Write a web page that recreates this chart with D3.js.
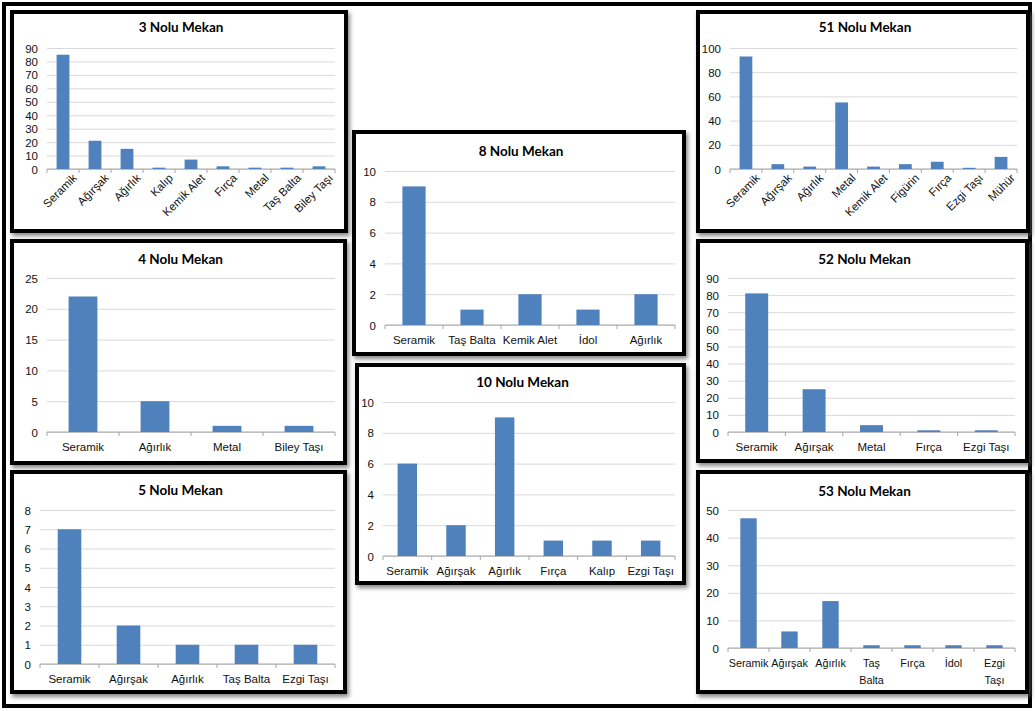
<!DOCTYPE html>
<html lang="tr">
<head>
<meta charset="UTF-8">
<title>Mekan Buluntuları</title>
<script src="https://d3js.org/d3.v7.min.js"></script>
<style>
    body { margin: 0; background: #fff; }
    svg { display: block; font-family: Lato, "Open Sans", sans-serif; }
    .title { font-weight: bold; font-size: 13.5px; fill: #000; }
    .tick text { font-size: 11.5px; fill: #111; }
    .narrow .xaxis .tick text { font-size: 10.8px; }
    .grid line { stroke: #d9d9d9; }
    .grid path { display: none; }
    .xaxis path { display: none; }
    .bar { fill: #4f81bd; }
</style>
</head>
<body>
<svg id="chart" width="1035" height="711"></svg>
<script>
// veriler
const m3Cats = ["Seramik", "Ağırşak", "Ağırlık", "Kalıp", "Kemik Alet", "Fırça", "Metal", "Taş Balta", "Biley Taşı"];
const m3Vals = [85, 21, 15, 1, 7, 2, 1, 1, 2];
const m4Cats = ["Seramik", "Ağırlık", "Metal", "Biley Taşı"];
const m4Vals = [22, 5, 1, 1];
const m5Cats = ["Seramik", "Ağırşak", "Ağırlık", "Taş Balta", "Ezgi Taşı"];
const m5Vals = [7, 2, 1, 1, 1];
const m8Cats = ["Seramik", "Taş Balta", "Kemik Alet", "İdol", "Ağırlık"];
const m8Vals = [9, 1, 2, 1, 2];
const m10Cats = ["Seramik", "Ağırşak", "Ağırlık", "Fırça", "Kalıp", "Ezgi Taşı"];
const m10Vals = [6, 2, 9, 1, 1, 1];
const m51Cats = ["Seramik", "Ağırşak", "Ağırlık", "Metal", "Kemik Alet", "Figürin", "Fırça", "Ezgi Taşı", "Mühür"];
const m51Vals = [93, 4, 2, 55, 2, 4, 6, 1, 10];
const m52Cats = ["Seramik", "Ağırşak", "Metal", "Fırça", "Ezgi Taşı"];
const m52Vals = [81, 25, 4, 1, 1];
const m53Cats = ["Seramik", "Ağırşak", "Ağırlık", "Taş Balta", "Fırça", "İdol", "Ezgi Taşı"];
const m53Vals = [47, 6, 17, 1, 1, 1, 1];

// eksen sınırları [max, adım]
const m3Axis = [90, 10], m4Axis = [25, 5], m5Axis = [8, 1], m8Axis = [10, 2];
const m10Axis = [10, 2], m51Axis = [100, 20], m52Axis = [90, 10], m53Axis = [50, 10];

const svg = d3.select("#chart");

const defs = svg.append("defs");
defs.append("filter").attr("id", "shadow")
    .attr("x", "-5%").attr("y", "-5%").attr("width", "110%").attr("height", "115%")
    .append("feDropShadow")
    .attr("dx", 2).attr("dy", 3).attr("stdDeviation", 2)
    .attr("flood-color", "#555").attr("flood-opacity", 0.7);

// dış çerçeve
svg.append("rect")
    .attr("x", 4).attr("y", 4).attr("width", 1026).attr("height", 702)
    .attr("fill", "none").attr("stroke", "#000").attr("stroke-width", 4);

function drawPanel(p) {
    const g = svg.append("g").classed("narrow", !!p.narrow);
    g.append("rect")
        .attr("x", p.box[0]).attr("y", p.box[1])
        .attr("width", p.box[2]).attr("height", p.box[3])
        .attr("fill", "#fff").attr("stroke", "#000").attr("stroke-width", 4)
        .attr("filter", "url(#shadow)");

    g.append("text").attr("class", "title")
        .attr("x", p.box[0] + p.box[2] / 2 + 2).attr("y", p.titleY)
        .attr("text-anchor", "middle")
        .text(p.title);

    const [max, step] = p.axis;
    const x = d3.scaleBand().domain(p.cats).range([p.left, p.right]);
    const y = d3.scaleLinear().domain([0, max]).range([p.bottom, p.top]);

    // yatay ızgara + y etiketleri
    g.append("g").attr("class", "grid")
        .attr("transform", `translate(${p.left},0)`)
        .call(d3.axisLeft(y).tickValues(d3.range(0, max + step / 2, step))
            .tickSize(-(p.right - p.left)).tickPadding(9))
        .call(s => s.selectAll(".tick text").attr("dy", "0.35em"));

    // x ekseni çizgisi ve kategori sınır işaretleri
    g.append("line")
        .attr("x1", p.left).attr("x2", p.right)
        .attr("y1", p.bottom).attr("y2", p.bottom)
        .attr("stroke", "#a6a6a6");
    g.selectAll(".sep").data(p.cats.concat(["__end"])).enter().append("line")
        .attr("x1", d => d === "__end" ? p.right : x(d))
        .attr("x2", d => d === "__end" ? p.right : x(d))
        .attr("y1", p.bottom).attr("y2", p.bottom + 4)
        .attr("stroke", "#a6a6a6");

    // çubuklar
    const bw = x.bandwidth() * 0.4;
    g.selectAll(".bar").data(p.cats.map((c, i) => ({c, v: p.vals[i]}))).enter()
        .append("rect").attr("class", "bar")
        .attr("x", d => x(d.c) + x.bandwidth() / 2 - bw / 2)
        .attr("y", d => y(d.v))
        .attr("width", bw)
        .attr("height", d => p.bottom - y(d.v));

    // x etiketleri
    const xa = g.append("g").attr("class", "xaxis")
        .attr("transform", `translate(0,${p.bottom})`)
        .call(d3.axisBottom(x).tickSize(0).tickPadding(p.rotate ? 6 : 11));
    xa.selectAll(".tick line").remove();
    if (p.rotate) {
        xa.selectAll(".tick text")
            .attr("text-anchor", "end")
            .attr("dy", "0.3em")
            .attr("transform", "translate(8,3) rotate(-45)");
    } else {
        xa.selectAll(".tick text").each(function(d) {
            const t = d3.select(this);
            if (this.getComputedTextLength() > x.bandwidth() - 2 && d.includes(" ")) {
                const parts = d.split(" ");
                t.text(null);
                parts.forEach((w, i) => {
                    t.append("tspan").attr("x", 0).attr("dy", i === 0 ? "0.71em" : "1.6em").text(w);
                });
                t.attr("dy", null);
            }
        });
    }
}

const panels = [
    {title: "3 Nolu Mekan", cats: m3Cats, vals: m3Vals, axis: m3Axis, rotate: true,
     box: [12, 12, 334, 219], titleY: 32, left: 47, right: 335, top: 48, bottom: 169},
    {title: "4 Nolu Mekan", cats: m4Cats, vals: m4Vals, axis: m4Axis,
     box: [12, 241, 333, 222], titleY: 264, left: 47, right: 335, top: 278, bottom: 432},
    {title: "5 Nolu Mekan", cats: m5Cats, vals: m5Vals, axis: m5Axis,
     box: [12, 472, 333, 220], titleY: 495, left: 40, right: 335, top: 510, bottom: 664},
    {title: "8 Nolu Mekan", cats: m8Cats, vals: m8Vals, axis: m8Axis,
     box: [354, 132, 330, 222], titleY: 156, left: 385, right: 675, top: 171, bottom: 325},
    {title: "10 Nolu Mekan", cats: m10Cats, vals: m10Vals, axis: m10Axis,
     box: [357, 365, 327, 218], titleY: 387, left: 383, right: 675, top: 402, bottom: 556},
    {title: "51 Nolu Mekan", cats: m51Cats, vals: m51Vals, axis: m51Axis, rotate: true,
     box: [698, 12, 330, 219], titleY: 32, left: 730, right: 1017, top: 48, bottom: 169},
    {title: "52 Nolu Mekan", cats: m52Cats, vals: m52Vals, axis: m52Axis,
     box: [698, 241, 329, 220], titleY: 264, left: 728, right: 1015, top: 278, bottom: 432},
    {title: "53 Nolu Mekan", cats: m53Cats, vals: m53Vals, axis: m53Axis, narrow: true,
     box: [698, 472, 329, 220], titleY: 496, left: 728, right: 1015, top: 510, bottom: 648}
];

panels.forEach(drawPanel);
</script>
</body>
</html>
